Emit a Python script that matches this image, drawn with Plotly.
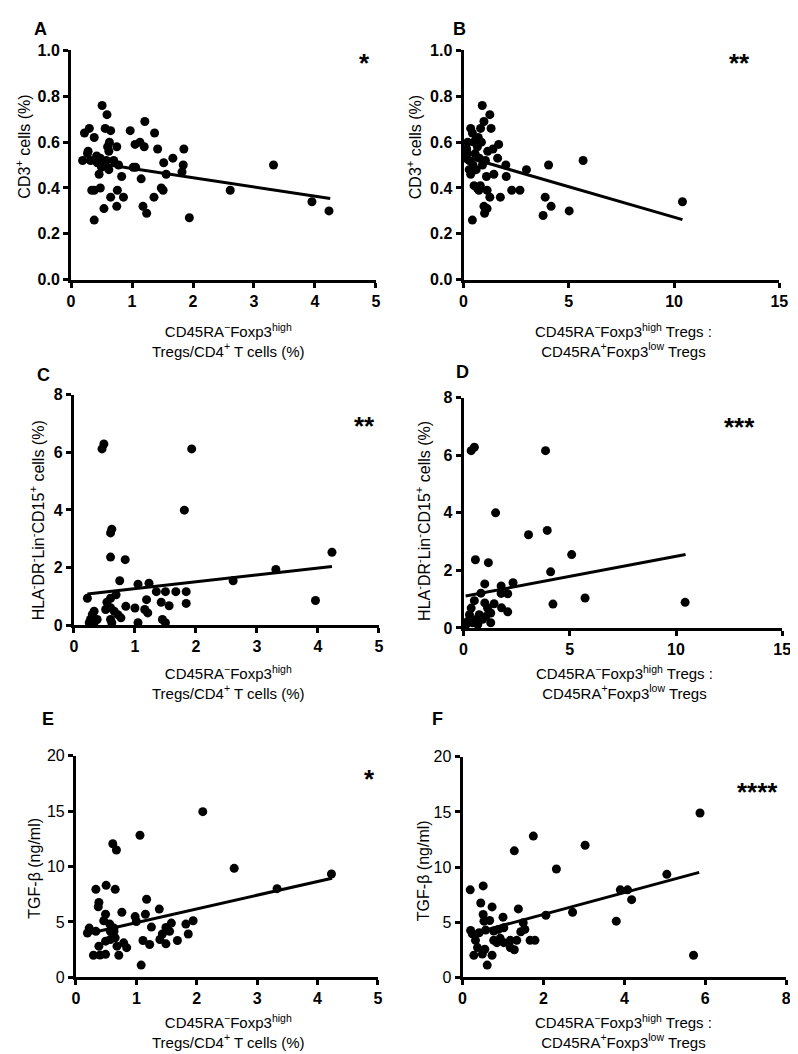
import plotly.graph_objects as go

W, H = 798, 1054

# ---------------- data ----------------
A_points = [(0.19,0.52),(0.22,0.64),(0.30,0.66),(0.27,0.55),(0.38,0.62),(0.32,0.52),(0.34,0.39),(0.38,0.39),
            (0.38,0.26),(0.43,0.51),(0.46,0.46),(0.48,0.40),(0.48,0.53),(0.51,0.76),(0.54,0.31),(0.56,0.66),
            (0.59,0.72),(0.60,0.58),(0.62,0.48),(0.65,0.65),(0.63,0.60),(0.65,0.36),(0.70,0.52),(0.75,0.58),
            (0.75,0.32),(0.76,0.39),(0.78,0.50),(0.83,0.45),(0.86,0.36),(0.97,0.65),(1.05,0.59),(1.02,0.49),
            (1.06,0.49),(1.13,0.60),(1.15,0.44),(1.18,0.32),(1.21,0.69),(1.20,0.58),(1.24,0.29),(1.37,0.64),
            (1.36,0.36),(1.42,0.57),(1.48,0.40),(1.51,0.39),(1.52,0.51),(1.56,0.46),(1.67,0.53),(1.85,0.57),
            (1.84,0.50),(1.82,0.47),(1.94,0.27),(2.61,0.39),(3.32,0.50),(3.95,0.34),(4.23,0.30),
            (0.28,0.56),(0.42,0.54),(0.50,0.49),(0.55,0.50),(0.62,0.56),(0.58,0.52)]
B_points = [(0.34,0.66),(0.42,0.64),(0.27,0.52),(0.19,0.55),(0.27,0.48),(0.34,0.46),(0.42,0.26),(0.50,0.41),
            (0.58,0.61),(0.66,0.58),(0.73,0.39),(0.81,0.66),(0.89,0.76),(0.97,0.69),(0.97,0.32),(1.00,0.29),
            (1.04,0.52),(1.09,0.45),(1.12,0.39),(1.12,0.31),(1.25,0.72),(1.31,0.66),(1.25,0.36),(1.40,0.57),
            (1.44,0.46),(1.67,0.59),(1.62,0.53),(1.75,0.36),(2.01,0.50),(2.03,0.45),(2.29,0.39),(2.68,0.39),
            (2.99,0.48),(3.78,0.28),(3.88,0.36),(4.04,0.50),(4.16,0.32),(5.02,0.30),(5.68,0.52),(10.4,0.34),
            (0.10,0.53),(0.15,0.57),(0.45,0.50),(0.55,0.55),(0.60,0.48),(0.75,0.53),(0.85,0.60),(0.70,0.62),
            (0.90,0.50),(0.20,0.60),(0.50,0.60),(0.65,0.40),(0.80,0.41),(1.15,0.56)]
C_points = [(1.81,3.99),(0.62,3.33),(0.60,3.20),(0.60,2.36),(0.84,2.27),(4.23,2.53),(3.31,1.93),(2.61,1.54),
            (3.96,0.85),(0.22,0.93),(0.75,1.54),(1.05,1.42),(1.23,1.45),(1.35,1.16),(1.50,1.16),(1.67,1.16),
            (1.84,1.16),(1.84,0.75),(1.43,0.79),(1.56,0.67),(1.19,0.88),(1.16,0.54),(1.21,0.42),(1.00,0.59),
            (0.85,0.65),(1.05,0.08),(1.45,0.19),(1.50,0.08),(0.69,1.05),(0.60,0.93),(0.54,0.79),(0.52,0.54),
            (0.60,0.60),(0.66,0.48),(0.72,0.36),(0.77,0.25),(0.33,0.48),(0.30,0.36),(0.27,0.19),(0.38,0.19),
            (0.33,0.08),(0.60,0.19),(0.62,0.08),(0.25,0.08),(0.49,6.29),(0.46,6.12),(1.93,6.12)]
D_points = [(1.51,4.00),(3.06,3.24),(3.94,3.39),(5.09,2.55),(0.56,2.37),(1.17,2.27),(4.10,1.95),(2.33,1.57),
            (1.77,1.46),(1.00,1.53),(5.72,1.04),(4.21,0.83),(10.43,0.89),(2.08,1.19),(1.77,1.20),(2.08,0.56),
            (1.79,0.70),(1.44,0.84),(0.82,1.21),(0.51,0.95),(1.28,0.52),(1.13,0.69),(1.00,0.87),(1.05,0.40),
            (1.28,0.18),(0.36,0.69),(0.28,0.46),(0.20,0.23),(0.59,0.29),(0.67,0.12),(0.74,0.46),(0.43,0.18),
            (0.90,0.30),(0.12,0.12),(0.36,6.16),(0.51,6.28),(3.86,6.16)]
E_points = [(2.10,14.96),(1.06,12.83),(0.61,12.06),(0.67,11.50),(2.62,9.84),(4.23,9.33),(3.33,8.00),(0.33,7.94),
            (0.50,8.30),(0.65,7.94),(0.38,6.76),(0.37,6.37),(1.17,7.05),(1.38,6.16),(0.76,5.87),(0.49,5.69),
            (0.98,5.48),(1.00,5.04),(1.15,5.69),(0.46,5.10),(0.56,4.80),(0.22,4.44),(0.19,4.00),(0.33,4.15),
            (0.57,4.15),(0.63,4.44),(1.25,4.53),(1.58,4.89),(1.82,4.80),(1.94,5.10),(1.86,3.91),(1.55,4.15),
            (1.49,4.50),(1.43,3.91),(1.39,3.41),(1.49,3.02),(1.68,3.32),(1.11,3.32),(1.22,2.96),(0.38,2.81),
            (0.49,3.26),(0.57,3.41),(0.65,3.56),(0.68,2.81),(0.79,3.11),(0.84,2.67),(0.49,2.07),(0.40,2.01),
            (0.29,1.99),(0.71,1.99),(1.08,1.10),(0.63,4.15)]
F_points = [(5.87,14.91),(1.75,12.81),(3.03,11.98),(1.28,11.47),(2.32,9.82),(5.05,9.34),(3.90,7.93),(4.08,7.93),
            (4.18,7.04),(0.19,7.93),(0.51,8.29),(0.45,6.74),(0.73,6.38),(1.38,6.20),(2.06,5.63),(2.72,5.90),
            (3.80,5.09),(5.71,2.00),(1.00,5.45),(0.51,5.69),(0.67,5.15),(0.53,5.09),(1.50,4.94),(1.54,4.34),
            (1.44,4.13),(1.02,4.49),(0.89,4.34),(0.77,4.19),(0.57,4.28),(0.20,4.25),(0.24,3.95),(0.41,4.04),
            (0.32,3.35),(0.77,3.35),(0.93,3.53),(1.02,3.14),(1.18,3.35),(1.34,3.35),(1.67,3.35),(1.79,3.35),
            (1.18,2.69),(1.28,2.49),(0.37,2.69),(0.28,2.00),(0.49,2.10),(0.55,2.54),(0.73,2.00),(0.61,1.10),
            (0.85,3.14)]

# regression lines (end points)
A_fit_x, A_fit_y = [0.19, 4.25], [0.518, 0.354]
B_fit_x, B_fit_y = [0.10, 10.4], [0.536, 0.262]
C_fit_x, C_fit_y = [0.22, 4.23], [1.08, 2.03]
D_fit_x, D_fit_y = [0.10, 10.45], [1.11, 2.55]
E_fit_x, E_fit_y = [0.19, 4.24], [3.93, 8.95]
F_fit_x, F_fit_y = [0.15, 5.85], [3.87, 9.52]

letters = ["A", "B", "C", "D", "E", "F"]
stars = ["*", "**", "**", "***", "*", "****"]
x_ranges = [[0, 5], [0, 15], [0, 5], [0, 15], [0, 5], [0, 8]]
x_ticks = [[0, 1, 2, 3, 4, 5], [0, 5, 10, 15], [0, 1, 2, 3, 4, 5], [0, 5, 10, 15], [0, 1, 2, 3, 4, 5], [0, 2, 4, 6, 8]]
y_ranges = [[0, 1], [0, 1], [0, 8], [0, 8], [0, 20], [0, 20]]
y_ticks = [[0, 0.2, 0.4, 0.6, 0.8, 1.0], [0, 0.2, 0.4, 0.6, 0.8, 1.0], [0, 2, 4, 6, 8], [0, 2, 4, 6, 8],
           [0, 5, 10, 15, 20], [0, 5, 10, 15, 20]]
y_titles = ["CD3<sup>+</sup> cells (%)", "CD3<sup>+</sup> cells (%)",
            "HLA<sup>-</sup>DR<sup>-</sup>Lin<sup>-</sup>CD15<sup>+</sup> cells (%)",
            "HLA<sup>-</sup>DR<sup>-</sup>Lin<sup>-</sup>CD15<sup>+</sup> cells (%)",
            "TGF-β (ng/ml)", "TGF-β (ng/ml)"]
x_title_left = "CD45RA<sup>−</sup>Foxp3<sup>high</sup><br>Tregs/CD4<sup>+</sup> T cells (%)"
x_title_right = "CD45RA<sup>−</sup>Foxp3<sup>high</sup> Tregs :<br>CD45RA<sup>+</sup>Foxp3<sup>low</sup> Tregs"
x_titles = [x_title_left, x_title_right] * 3

points = [A_points, B_points, C_points, D_points, E_points, F_points]
fits = [(A_fit_x, A_fit_y), (B_fit_x, B_fit_y), (C_fit_x, C_fit_y), (D_fit_x, D_fit_y), (E_fit_x, E_fit_y), (F_fit_x, F_fit_y)]

# ---------------- layout geometry (pixels) ----------------
# (left, right, top, bottom) of each plotting area
boxes = [(60, 370, 35, 268), (459, 780, 35, 268),
         (63, 373, 385, 619), (459, 783, 388, 622),
         (65, 372, 752, 977), (458, 787, 753, 977)]
letter_pos = [(29, 13), (455, 13), (32, 365), (458, 362), (37, 715), (433, 715)]
star_pos = [(358, 42), (740, 42), (358, 411), (740, 412), (363, 770), (758, 783)]
ytitle_pos = [(11, 133), (409, 133), (25, 513), (418, 513), (22, 866), (419, 869)]
xtitle_pos = [(220, 330), (622, 330), (220, 677), (623, 677), (220, 1032), (622, 1032)]

def px(x):
    return x / W

def py(y):
    return 1 - y / H

FONT = "Liberation Sans, Arial, sans-serif"
fig = go.Figure()
annotations = []
layout = dict(width=W, height=H, margin=dict(l=0, r=0, t=0, b=0),
              paper_bgcolor="white", plot_bgcolor="white", showlegend=False)

for i in range(6):
    n = "" if i == 0 else str(i + 1)
    xa, ya = "x" + n, "y" + n
    xs = [p[0] for p in points[i]]
    ys = [p[1] for p in points[i]]
    fig.add_trace(go.Scatter(x=xs, y=ys, mode="markers", xaxis=xa, yaxis=ya,
                             marker=dict(size=9, color="black"), cliponaxis=False))
    fx, fy = fits[i]
    fig.add_trace(go.Scatter(x=fx, y=fy, mode="lines", xaxis=xa, yaxis=ya,
                             line=dict(color="black", width=3), cliponaxis=False))
    l, r, t, b = boxes[i]
    bold = i < 4
    common = dict(showline=True, linewidth=3, linecolor="black", ticks="outside", ticklen=5,
                  tickwidth=3, tickcolor="black", showgrid=False, zeroline=False, fixedrange=True)
    layout["xaxis" + n] = dict(domain=[px(l), px(r)], range=x_ranges[i], tickvals=x_ticks[i],
                               anchor=ya, tickfont=dict(family=FONT, size=16, color="black", weight="bold"),
                               **common)
    yfmt = ".1f" if i < 2 else "d"
    layout["yaxis" + n] = dict(domain=[py(b), py(t)], range=y_ranges[i], tickvals=y_ticks[i],
                               tickformat=yfmt, anchor=xa,
                               tickfont=dict(family=FONT, size=16, color="black",
                                             weight="bold" if bold else "normal"),
                               **common)
    lx, ly = letter_pos[i]
    annotations.append(dict(text=letters[i], x=px(lx), y=py(ly), xref="paper", yref="paper",
                            showarrow=False, xanchor="center", yanchor="middle",
                            font=dict(family=FONT, size=18, color="black", weight="bold")))
    sx, sy = star_pos[i]
    annotations.append(dict(text=stars[i], x=px(sx), y=py(sy + 6), xref="paper", yref="paper",
                            showarrow=False, xanchor="center", yanchor="middle",
                            font=dict(family=FONT, size=26, color="black", weight="bold")))
    tx, ty = ytitle_pos[i]
    annotations.append(dict(text=y_titles[i], x=px(tx), y=py(ty), xref="paper", yref="paper",
                            showarrow=False, xanchor="center", yanchor="middle", textangle=-90,
                            font=dict(family=FONT, size=16, color="black")))
    ux, uy = xtitle_pos[i]
    annotations.append(dict(text=x_titles[i], x=px(ux), y=py(uy), xref="paper", yref="paper",
                            showarrow=False, xanchor="center", yanchor="middle",
                            font=dict(family=FONT, size=15, color="black")))

layout["annotations"] = annotations
fig.update_layout(**layout)
fig.write_html("out.html")
